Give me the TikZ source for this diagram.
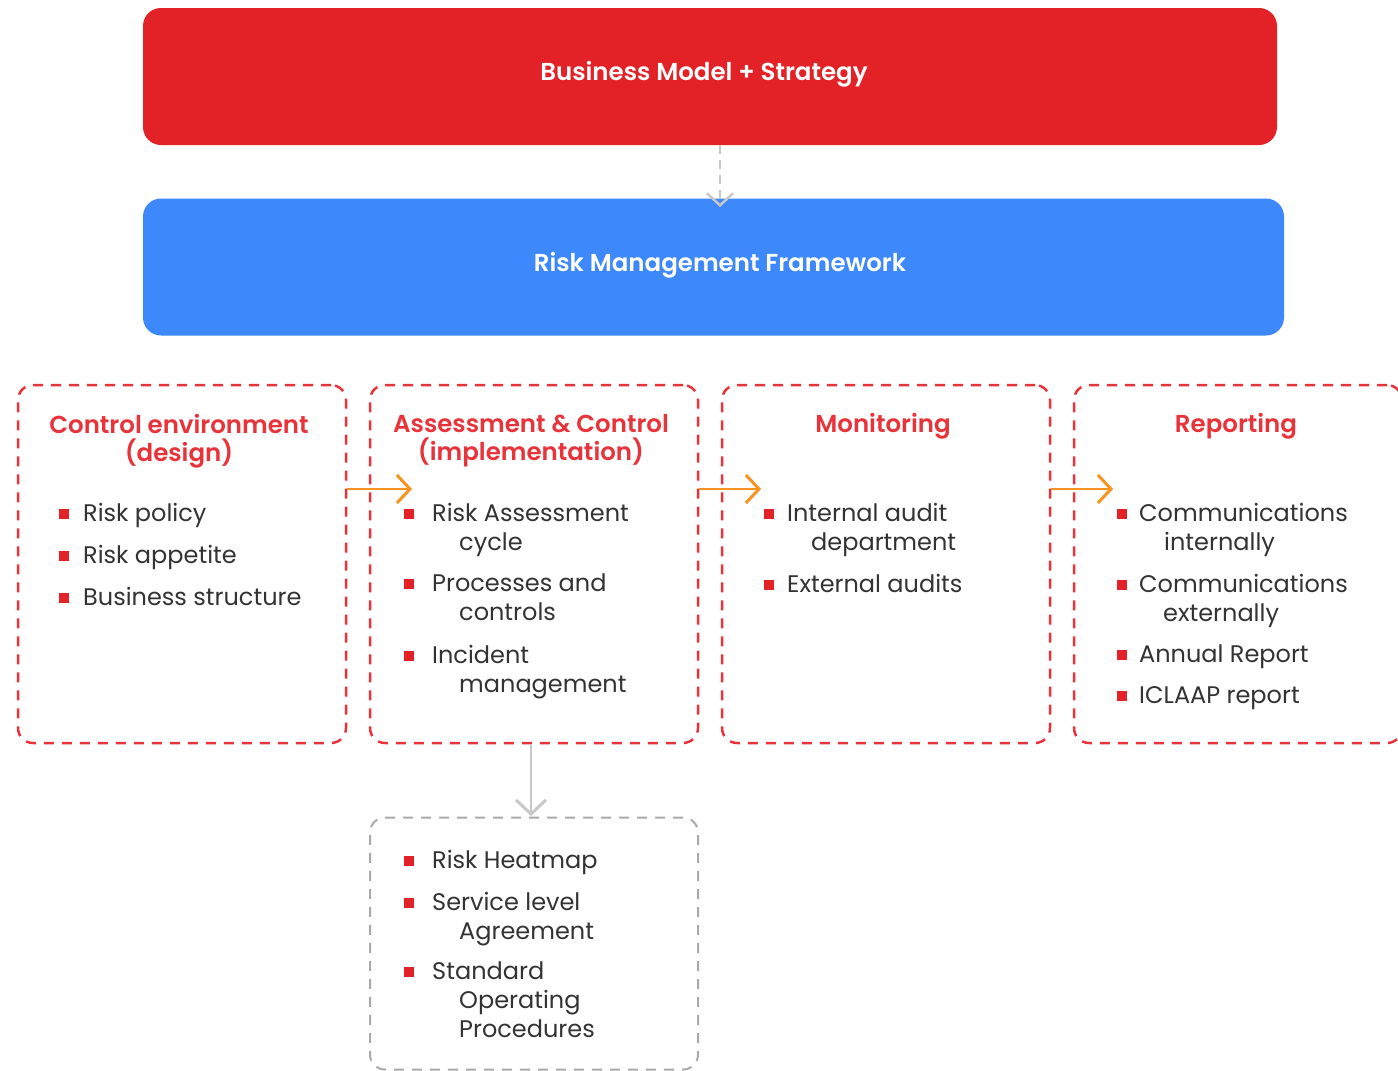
\documentclass[tikz,border=0pt]{standalone}
\usepackage{fontspec}
\setmainfont{Poppins}
\newfontfamily\semib{Poppins SemiBold}
\usetikzlibrary{arrows.meta}
\definecolor{bred}{HTML}{E32227}
\definecolor{bblue}{HTML}{3D88FA}
\definecolor{dred}{HTML}{E8333A}
\definecolor{borange}{HTML}{F7931E}
\definecolor{lgray}{HTML}{C8C8C8}
\definecolor{dgray}{HTML}{AAAAAA}
\definecolor{txt}{HTML}{333333}
\newcommand\bsq[1][15pt]{{\color{bred}\raisebox{2.5pt}{\rule{10pt}{10pt}}}\hspace{#1}}
\begin{document}
\begin{tikzpicture}[x=1pt,y=-1pt,
  solidbox/.style={rectangle, rounded corners=18pt, inner sep=0pt, minimum height=137pt},
  boxlabel/.style={text=white, font=\fontsize{24.5}{28}\selectfont\semib, inner sep=0pt},
  dbox/.style={rectangle, rounded corners=15pt, draw=dred, line width=2.5pt, dash pattern=on 10pt off 8pt, minimum width=328pt, minimum height=358pt, inner sep=0pt},
  gbox/.style={rectangle, rounded corners=15pt, draw=dgray, line width=2pt, dash pattern=on 10pt off 8pt, minimum width=328pt, minimum height=252pt, inner sep=0pt},
  ttl/.style={text=dred, font=\fontsize{24.5}{28}\selectfont\semib, align=center, inner sep=0pt},
  item/.style={text=txt, font=\fontsize{24}{29}\selectfont, inner sep=0pt, anchor=base west},
  oarrow/.style={draw=borange, line width=2.5pt, -{Straight Barb[length=13pt,width=28pt,line width=3pt]}},
  garrow/.style={draw=lgray, line width=2.5pt, -{Straight Barb[length=14pt,width=30pt,line width=3pt]}},
]
\clip (0,0) rectangle (1398,1071);
\fill[white] (0,0) rectangle (1398,1071);

% top boxes
\node[solidbox, fill=bred, minimum width=1134pt] (bm) at (710,76.5) {};
\node[solidbox, fill=bblue, minimum width=1141pt] (rm) at (713.5,267) {};
\node[boxlabel] (bml) at (704,74) {Business Model + Strategy};
\node[boxlabel] (rml) at (720,265) {Risk Management Framework};

% dashed boxes
\node[dbox] (b1) at (182,564) {};
\node[dbox] (b2) at (534,564) {};
\node[dbox] (b3) at (886,564) {};
\node[dbox] (b4) at (1238,564) {};
\node[gbox] (b5) at (534,943.5) {};

% titles
\node[ttl] (t1) at (179,441) {Control environment\\(design)};
\node[ttl] (t2) at (531,441) {Assessment \& Control\\(implementation)};
\node[ttl] (t3) at (883,426) {Monitoring};
\node[ttl] (t4) at (1236,426) {Reporting};

% box 1 items
\node[item] (i11) at (59,503) {\parbox[t]{330pt}{\bsq[14pt]Risk policy}};
\node[item] (i12) at (59,545) {\parbox[t]{330pt}{\bsq[14pt]Risk appetite}};
\node[item] (i13) at (59,587) {\parbox[t]{330pt}{\bsq[14pt]Business structure}};

% box 2 items
\node[item] (i21) at (404,503) {\parbox[t]{330pt}{\bsq[18pt]Risk Assessment\\\hspace*{55pt}cycle}};
\node[item] (i22) at (404,574) {\parbox[t]{330pt}{\bsq[18pt]Processes and\\\hspace*{55pt}controls}};
\node[item] (i23) at (404,645) {\parbox[t]{330pt}{\bsq[18pt]Incident\\\hspace*{55pt}management}};

% box 3 items
\node[item] (i31) at (764,503) {\parbox[t]{330pt}{\bsq[13pt]Internal audit\\\hspace*{47pt}department}};
\node[item] (i32) at (764,574) {\parbox[t]{330pt}{\bsq[13pt]External audits}};

% box 4 items
\node[item] (i41) at (1117,503) {\parbox[t]{330pt}{\bsq[12pt]Communications\\\hspace*{47pt}internally}};
\node[item] (i42) at (1117,574) {\parbox[t]{330pt}{\bsq[12pt]Communications\\\hspace*{46pt}externally}};
\node[item] (i43) at (1117,645) {\parbox[t]{330pt}{\bsq[12pt]Annual Report}};
\node[item] (i44) at (1117,687) {\parbox[t]{330pt}{\bsq[12pt]ICLAAP report}};

% gray box items
\node[item] (i51) at (404,850) {\parbox[t]{330pt}{\bsq[18pt]Risk Heatmap}};
\node[item] (i52) at (404,892) {\parbox[t]{330pt}{\bsq[18pt]Service level\\\hspace*{55pt}Agreement}};
\node[item] (i53) at (404,962) {\parbox[t]{330pt}{\bsq[18pt]Standard\\\hspace*{55pt}Operating\\\hspace*{55pt}Procedures}};

% connectors
\coordinate (c0) at (720,207);
\draw[draw=lgray, line width=1.8pt, dash pattern=on 9pt off 6pt, -{Straight Barb[length=12pt,width=26pt,line width=2.5pt]}] (bm.south -| c0) -- (c0);
\coordinate (c1) at (412,489);
\coordinate (c2) at (761,489);
\coordinate (c3) at (1113,489);
\draw[oarrow] (b1.east |- c1) -- (c1);
\draw[oarrow] (b2.east |- c2) -- (c2);
\draw[oarrow] (b3.east |- c3) -- (c3);
\coordinate (c4) at (531,816);
\draw[garrow] (b2.south -| c4) -- (c4);
\end{tikzpicture}
\end{document}
